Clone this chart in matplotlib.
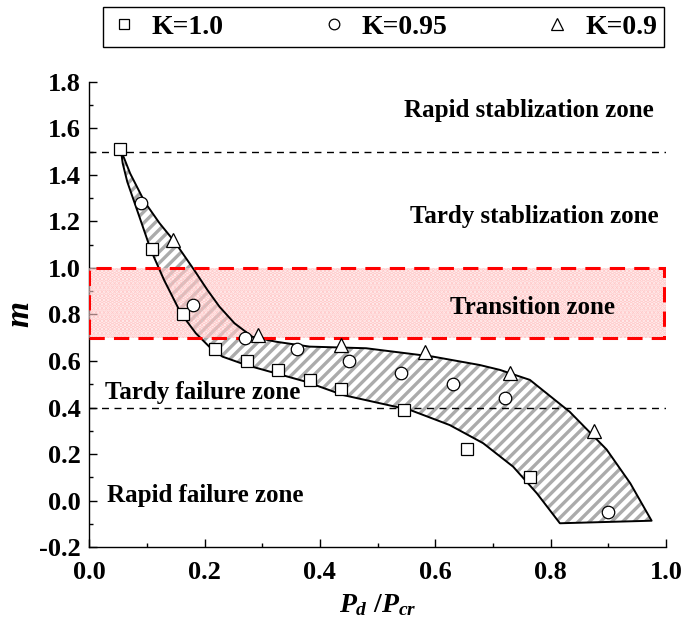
"""Stability zones chart: m vs Pd/Pcr for three K values."""

import matplotlib
matplotlib.use("Agg")
import matplotlib.pyplot as plt
from matplotlib.patches import Polygon, Rectangle
from matplotlib.ticker import MultipleLocator

# ── data ──────────────────────────────────────────────────────────────────
k10_x = [0.054, 0.108, 0.163, 0.218, 0.273, 0.327, 0.382, 0.436, 0.545, 0.655, 0.764]
k10_y = [1.51, 1.08, 0.80, 0.65, 0.60, 0.56, 0.52, 0.48, 0.39, 0.22, 0.10]

k095_x = [0.09, 0.18, 0.27, 0.36, 0.45, 0.54, 0.63, 0.72, 0.90]
k095_y = [1.28, 0.84, 0.70, 0.65, 0.60, 0.55, 0.50, 0.44, -0.05]

k09_x = [0.146, 0.292, 0.437, 0.583, 0.729, 0.875]
k09_y = [1.12, 0.71, 0.67, 0.64, 0.55, 0.30]

# envelope boundaries
upper_x = [0.055, 0.071, 0.096, 0.122, 0.148, 0.182, 0.205, 0.226, 0.252, 0.283,
           0.324, 0.382, 0.480, 0.596, 0.677, 0.712, 0.764, 0.833, 0.897, 0.938, 0.975]
upper_y = [1.506, 1.406, 1.284, 1.192, 1.113, 0.991, 0.905, 0.833, 0.762, 0.704,
           0.683, 0.662, 0.655, 0.619, 0.583, 0.562, 0.519, 0.382, 0.220, 0.075, -0.086]
lower_x = [0.055, 0.058, 0.066, 0.081, 0.107, 0.130, 0.159, 0.185, 0.208, 0.231, 0.272,
           0.324, 0.376, 0.440, 0.556, 0.625, 0.683, 0.735, 0.776, 0.816]
lower_y = [1.506, 1.450, 1.370, 1.263, 1.076, 0.947, 0.805, 0.719, 0.662, 0.619, 0.583,
           0.547, 0.511, 0.454, 0.390, 0.325, 0.247, 0.146, 0.032, -0.097]

zone_labels = ["Rapid stablization zone", "Tardy stablization zone", "Transition zone",
               "Tardy failure zone", "Rapid failure zone"]
zone_x = [0.763, 0.771, 0.768, 0.196, 0.201]
zone_y = [1.678, 1.220, 0.832, 0.467, 0.024]

boundary_levels = [1.5, 0.4]
transition_lo, transition_hi = 0.7, 1.0

# ── style ─────────────────────────────────────────────────────────────────
plt.rcParams["font.family"] = ["Liberation Serif", "DejaVu Serif"]
plt.rcParams["font.weight"] = "bold"
plt.rcParams["axes.unicode_minus"] = False
plt.rcParams["mathtext.fontset"] = "custom"
plt.rcParams["mathtext.it"] = "Liberation Serif:italic:bold"
plt.rcParams["mathtext.rm"] = "Liberation Serif:bold"
plt.rcParams["mathtext.bf"] = "Liberation Serif:bold"
plt.rcParams["hatch.linewidth"] = 2.4

fig = plt.figure(figsize=(6.81, 6.24), dpi=100)
ax = fig.add_axes([0.131, 0.123, 0.847, 0.746])

# ── envelope band ─────────────────────────────────────────────────────────
poly_pts = list(zip(upper_x, upper_y)) + list(zip(lower_x[::-1], lower_y[::-1]))
band_fill = Polygon(poly_pts, closed=True, facecolor="white", edgecolor="#ababab",
                    hatch="///", linewidth=0, zorder=2)
ax.add_patch(band_fill)
band_edge = Polygon(poly_pts, closed=True, fill=False, edgecolor="black",
                    linewidth=1.4, joinstyle="round", zorder=4.5)
ax.add_patch(band_edge)

# ── transition zone ───────────────────────────────────────────────────────
rect_fill = Rectangle((0, transition_lo), 1.0, transition_hi - transition_lo,
                      facecolor="#ffe4e4", edgecolor="#ffa0a0", hatch="....",
                      linewidth=0, alpha=0.5, zorder=4)
ax.add_patch(rect_fill)
rect_edge = Rectangle((0, transition_lo), 0.997, transition_hi - transition_lo,
                      fill=False, edgecolor="red", linestyle=(0, (5, 3)),
                      linewidth=2.2, zorder=5)
ax.add_patch(rect_edge)

# ── boundary lines ────────────────────────────────────────────────────────
for lvl in boundary_levels:
    ax.plot([0, 1.0], [lvl, lvl], color="black", linestyle=(0, (5, 4)),
            linewidth=1.0, zorder=3)

# ── markers ───────────────────────────────────────────────────────────────
mk = dict(linestyle="none", markerfacecolor="white", markeredgecolor="black",
          markeredgewidth=0.9, zorder=6)
h1, = ax.plot(k10_x, k10_y, marker="s", markersize=8, label="K=1.0", **mk)
h2, = ax.plot(k095_x, k095_y, marker="o", markersize=9, label="K=0.95", **mk)
h3, = ax.plot(k09_x, k09_y, marker="^", markersize=10, label="K=0.9", **mk)

# ── zone labels ───────────────────────────────────────────────────────────
for txt, tx, ty in zip(zone_labels, zone_x, zone_y):
    ax.text(tx, ty, txt, ha="center", va="center", fontsize=18,
            fontweight="bold", zorder=7)

# ── axes ──────────────────────────────────────────────────────────────────
ax.set_xlim(0, 1.0)
ax.set_ylim(-0.2, 1.8)
ax.xaxis.set_major_locator(MultipleLocator(0.2))
ax.xaxis.set_minor_locator(MultipleLocator(0.1))
ax.yaxis.set_major_locator(MultipleLocator(0.2))
ax.yaxis.set_minor_locator(MultipleLocator(0.1))
ax.tick_params(which="both", direction="in", labelsize=19, width=1.0)
ax.tick_params(which="major", length=6)
ax.tick_params(which="minor", length=3)
ax.tick_params(axis="y", pad=6)
ax.tick_params(axis="x", pad=10)
for lab in ax.get_xticklabels() + ax.get_yticklabels():
    lab.set_fontweight("bold")
ax.spines["top"].set_visible(False)
ax.spines["right"].set_visible(False)
ax.spines["left"].set_linewidth(1.0)
ax.spines["bottom"].set_linewidth(1.0)

ax.set_xlabel(r"$P_d\ /P_{cr}$", fontsize=20, labelpad=6)
ax.set_ylabel(r"$m$", fontsize=24)
ax.yaxis.set_label_coords(-0.092, 0.5)

# ── legend ────────────────────────────────────────────────────────────────
leg = fig.legend(handles=[h1, h2, h3], loc="lower left", ncol=3, mode="expand",
                 bbox_to_anchor=(0.151, 0.925, 0.824, 0.067), fancybox=False,
                 edgecolor="black", framealpha=1, borderaxespad=0,
                 prop={"size": 20, "weight": "bold"}, handlelength=1.0,
                 handletextpad=0.5, borderpad=0.25, markerscale=0.85)
leg.get_frame().set_linewidth(1.0)

fig.savefig("out.png", dpi=100)
